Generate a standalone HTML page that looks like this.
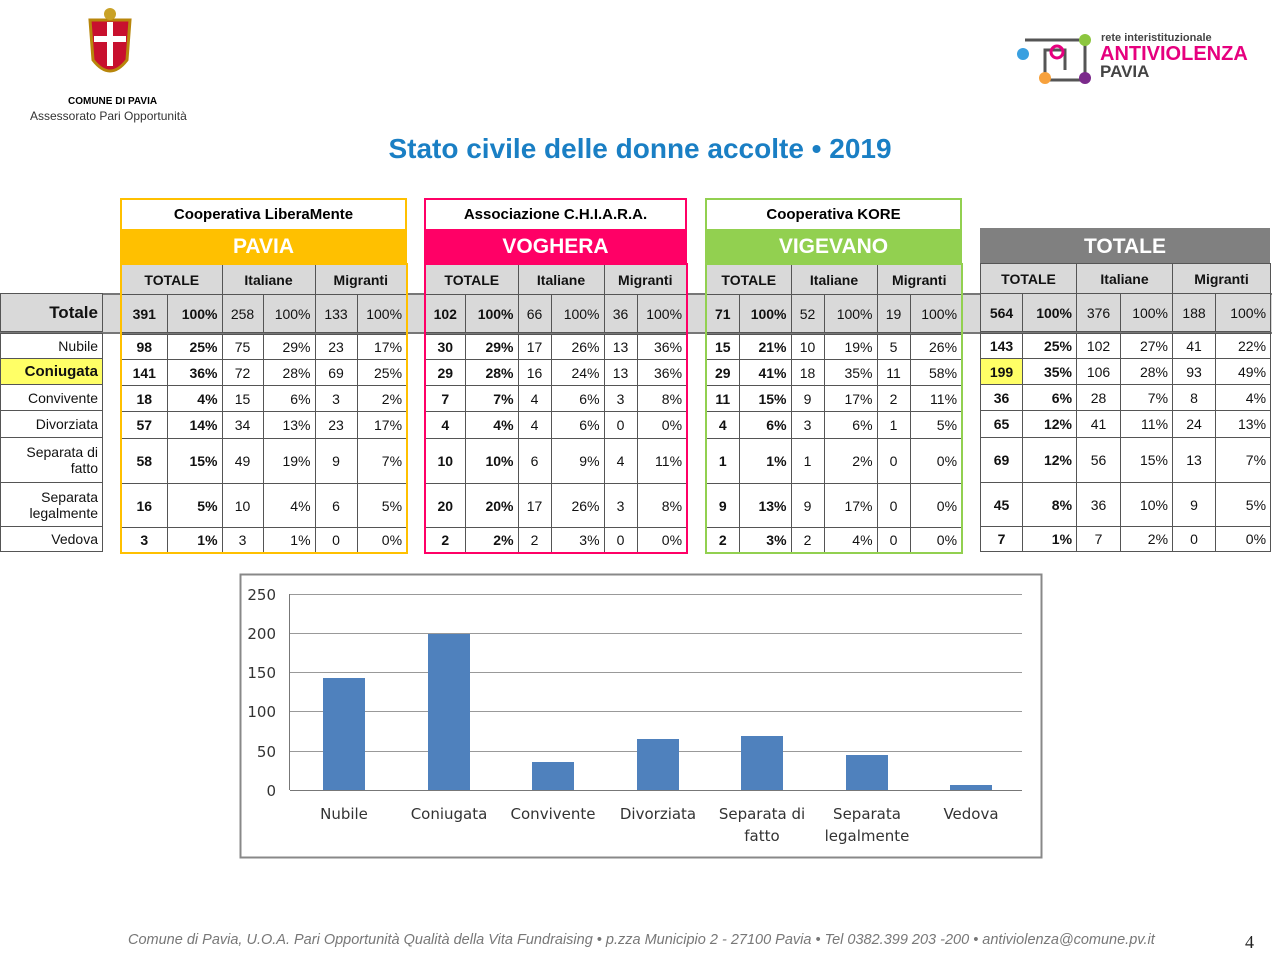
<!DOCTYPE html><html><head><meta charset="utf-8"><style>
body{margin:0;width:1280px;height:953px;background:#fff;position:relative;font-family:"Liberation Sans",sans-serif;overflow:hidden}
.a{position:absolute}
table{position:absolute;border-collapse:collapse;font-size:14px;table-layout:fixed}
td{border:1px solid #555;text-align:center;padding:0;color:#111;overflow:hidden}
td.r{text-align:right;padding-right:4px}
.h td{height:37px;background:#d9d9d9;font-size:14px}
.sub td{background:#d9d9d9;height:29px;font-weight:bold}
b{font-weight:bold}
</style></head><body>
<div class="a" style="left:82px;top:6px;width:56px;height:80px">
<svg width="56" height="80"><path d="M8 14h40l-3 40q-17 22-34 0z" fill="#c8102e" stroke="#b8860b" stroke-width="3"/><rect x="25" y="16" width="6" height="44" fill="#fff"/><rect x="12" y="30" width="32" height="6" fill="#fff"/><circle cx="28" cy="8" r="6" fill="#c9a227"/></svg></div>
<div class="a" style="left:68px;top:96px;font-size:10px;font-weight:bold">COMUNE DI PAVIA</div>
<div class="a" style="left:30px;top:109px;font-size:12px;color:#333">Assessorato Pari Opportunità</div>
<svg class="a" style="left:1015px;top:30px" width="90" height="62"><path d="M10 10h60v40H30V20h20v20" fill="none" stroke="#555" stroke-width="3"/><circle cx="8" cy="24" r="6" fill="#3aa0e0"/><circle cx="70" cy="10" r="6" fill="#8cc63f"/><circle cx="30" cy="48" r="6" fill="#f7a13c"/><circle cx="70" cy="48" r="6" fill="#7b2a8b"/><circle cx="42" cy="22" r="6" fill="none" stroke="#e6007e" stroke-width="3"/></svg>
<div class="a" style="left:1101px;top:32px;font-size:11px;font-weight:bold;color:#444">rete interistituzionale</div>
<div class="a" style="left:1100px;top:43px;font-size:20px;font-weight:bold;color:#e6007e">ANTIVIOLENZA</div>
<div class="a" style="left:1100px;top:62px;font-size:17px;font-weight:bold;color:#444">PAVIA</div>
<div class="a" style="left:0;width:1280px;top:133px;text-align:center;font-size:28px;font-weight:bold;color:#1a7fc4">Stato civile delle donne accolte • 2019</div>

<div class="a" style="left:120px;top:198px;width:283px;height:91px;border:2px solid #ffc000"></div>
<div class="a" style="left:122px;top:200px;width:283px;height:29px;text-align:center;line-height:29px;font-size:15px;font-weight:bold">Cooperativa LiberaMente</div>
<div class="a" style="left:122px;top:229px;width:283px;height:34px;background:#ffc000;color:#fff;text-align:center;line-height:36px;font-size:21px;font-weight:bold">PAVIA</div>
<div class="a" style="left:424px;top:198px;width:259px;height:91px;border:2px solid #ff0066"></div>
<div class="a" style="left:426px;top:200px;width:259px;height:29px;text-align:center;line-height:29px;font-size:15px;font-weight:bold">Associazione C.H.I.A.R.A.</div>
<div class="a" style="left:426px;top:229px;width:259px;height:34px;background:#ff0066;color:#fff;text-align:center;line-height:36px;font-size:21px;font-weight:bold">VOGHERA</div>
<div class="a" style="left:705px;top:198px;width:253px;height:91px;border:2px solid #92d050"></div>
<div class="a" style="left:707px;top:200px;width:253px;height:29px;text-align:center;line-height:29px;font-size:15px;font-weight:bold">Cooperativa KORE</div>
<div class="a" style="left:707px;top:229px;width:253px;height:34px;background:#92d050;color:#fff;text-align:center;line-height:36px;font-size:21px;font-weight:bold">VIGEVANO</div>
<div class="a" style="left:980px;top:228px;width:290px;height:35px;background:#808080;color:#fff;text-align:center;line-height:37px;font-size:21px;font-weight:bold">TOTALE</div>

<div class="a" style="left:0;top:293px;width:1272px;height:37px;background:#d9d9d9;border-top:2px solid #777;border-bottom:2px solid #777"></div>

<table style="left:0;top:293px;width:103px">
<tr class="h"><td class="r" style="font-size:17px;font-weight:bold;height:37px">Totale</td></tr>
<tr><td style="border:none;height:1px"></td></tr>
<tr><td class="r" style="height:24px">Nubile</td></tr>
<tr><td class="r" style="height:25px;background:#ffff66;font-weight:bold;font-size:15px">Coniugata</td></tr>
<tr><td class="r" style="height:25px">Convivente</td></tr>
<tr><td class="r" style="height:26px">Divorziata</td></tr>
<tr><td class="r" style="height:44px">Separata di<br>fatto</td></tr>
<tr><td class="r" style="height:43px">Separata<br>legalmente</td></tr>
<tr><td class="r" style="height:24px">Vedova</td></tr>
</table>

<table style="left:120px;top:263px;width:286px;border:2px solid #ffc000">
<col style="width:46px"><col style="width:55px"><col style="width:41px"><col style="width:52px"><col style="width:42px"><col style="width:50px">
<tr class="sub"><td colspan="2">TOTALE</td><td colspan="2">Italiane</td><td colspan="2">Migranti</td></tr>
<tr class="h"><td><b>391</b></td><td class="r"><b>100%</b></td><td>258</td><td class="r">100%</td><td>133</td><td class="r">100%</td></tr>
<tr><td colspan="6" style="height:1px;border:none"></td></tr>
<tr style="height:25px"><td><b>98</b></td><td class="r"><b>25%</b></td><td>75</td><td class="r">29%</td><td>23</td><td class="r">17%</td></tr>
<tr style="height:26px"><td><b>141</b></td><td class="r"><b>36%</b></td><td>72</td><td class="r">28%</td><td>69</td><td class="r">25%</td></tr>
<tr style="height:26px"><td><b>18</b></td><td class="r"><b>4%</b></td><td>15</td><td class="r">6%</td><td>3</td><td class="r">2%</td></tr>
<tr style="height:27px"><td><b>57</b></td><td class="r"><b>14%</b></td><td>34</td><td class="r">13%</td><td>23</td><td class="r">17%</td></tr>
<tr style="height:45px"><td><b>58</b></td><td class="r"><b>15%</b></td><td>49</td><td class="r">19%</td><td>9</td><td class="r">7%</td></tr>
<tr style="height:44px"><td><b>16</b></td><td class="r"><b>5%</b></td><td>10</td><td class="r">4%</td><td>6</td><td class="r">5%</td></tr>
<tr style="height:25px"><td><b>3</b></td><td class="r"><b>1%</b></td><td>3</td><td class="r">1%</td><td>0</td><td class="r">0%</td></tr>
</table>

<table style="left:424px;top:263px;width:262px;border:2px solid #ff0066">
<col style="width:40px"><col style="width:53px"><col style="width:33px"><col style="width:53px"><col style="width:33px"><col style="width:50px">
<tr class="sub"><td colspan="2">TOTALE</td><td colspan="2">Italiane</td><td colspan="2">Migranti</td></tr>
<tr class="h"><td><b>102</b></td><td class="r"><b>100%</b></td><td>66</td><td class="r">100%</td><td>36</td><td class="r">100%</td></tr>
<tr><td colspan="6" style="height:1px;border:none"></td></tr>
<tr style="height:25px"><td><b>30</b></td><td class="r"><b>29%</b></td><td>17</td><td class="r">26%</td><td>13</td><td class="r">36%</td></tr>
<tr style="height:26px"><td><b>29</b></td><td class="r"><b>28%</b></td><td>16</td><td class="r">24%</td><td>13</td><td class="r">36%</td></tr>
<tr style="height:26px"><td><b>7</b></td><td class="r"><b>7%</b></td><td>4</td><td class="r">6%</td><td>3</td><td class="r">8%</td></tr>
<tr style="height:27px"><td><b>4</b></td><td class="r"><b>4%</b></td><td>4</td><td class="r">6%</td><td>0</td><td class="r">0%</td></tr>
<tr style="height:45px"><td><b>10</b></td><td class="r"><b>10%</b></td><td>6</td><td class="r">9%</td><td>4</td><td class="r">11%</td></tr>
<tr style="height:44px"><td><b>20</b></td><td class="r"><b>20%</b></td><td>17</td><td class="r">26%</td><td>3</td><td class="r">8%</td></tr>
<tr style="height:25px"><td><b>2</b></td><td class="r"><b>2%</b></td><td>2</td><td class="r">3%</td><td>0</td><td class="r">0%</td></tr>
</table>

<table style="left:705px;top:263px;width:256px;border:2px solid #92d050">
<col style="width:33px"><col style="width:52px"><col style="width:33px"><col style="width:53px"><col style="width:33px"><col style="width:52px">
<tr class="sub"><td colspan="2">TOTALE</td><td colspan="2">Italiane</td><td colspan="2">Migranti</td></tr>
<tr class="h"><td><b>71</b></td><td class="r"><b>100%</b></td><td>52</td><td class="r">100%</td><td>19</td><td class="r">100%</td></tr>
<tr><td colspan="6" style="height:1px;border:none"></td></tr>
<tr style="height:25px"><td><b>15</b></td><td class="r"><b>21%</b></td><td>10</td><td class="r">19%</td><td>5</td><td class="r">26%</td></tr>
<tr style="height:26px"><td><b>29</b></td><td class="r"><b>41%</b></td><td>18</td><td class="r">35%</td><td>11</td><td class="r">58%</td></tr>
<tr style="height:26px"><td><b>11</b></td><td class="r"><b>15%</b></td><td>9</td><td class="r">17%</td><td>2</td><td class="r">11%</td></tr>
<tr style="height:27px"><td><b>4</b></td><td class="r"><b>6%</b></td><td>3</td><td class="r">6%</td><td>1</td><td class="r">5%</td></tr>
<tr style="height:45px"><td><b>1</b></td><td class="r"><b>1%</b></td><td>1</td><td class="r">2%</td><td>0</td><td class="r">0%</td></tr>
<tr style="height:44px"><td><b>9</b></td><td class="r"><b>13%</b></td><td>9</td><td class="r">17%</td><td>0</td><td class="r">0%</td></tr>
<tr style="height:25px"><td><b>2</b></td><td class="r"><b>3%</b></td><td>2</td><td class="r">4%</td><td>0</td><td class="r">0%</td></tr>
</table>

<table style="left:980px;top:263px;width:290px;border:1px solid #555">
<col style="width:42px"><col style="width:54px"><col style="width:44px"><col style="width:52px"><col style="width:43px"><col style="width:55px">
<tr class="sub"><td colspan="2">TOTALE</td><td colspan="2">Italiane</td><td colspan="2">Migranti</td></tr>
<tr class="h"><td><b>564</b></td><td class="r"><b>100%</b></td><td>376</td><td class="r">100%</td><td>188</td><td class="r">100%</td></tr>
<tr><td colspan="6" style="height:1px;border:none"></td></tr>
<tr style="height:25px"><td><b>143</b></td><td class="r"><b>25%</b></td><td>102</td><td class="r">27%</td><td>41</td><td class="r">22%</td></tr>
<tr style="height:26px"><td style="background:#ffff66"><b>199</b></td><td class="r"><b>35%</b></td><td>106</td><td class="r">28%</td><td>93</td><td class="r">49%</td></tr>
<tr style="height:26px"><td><b>36</b></td><td class="r"><b>6%</b></td><td>28</td><td class="r">7%</td><td>8</td><td class="r">4%</td></tr>
<tr style="height:27px"><td><b>65</b></td><td class="r"><b>12%</b></td><td>41</td><td class="r">11%</td><td>24</td><td class="r">13%</td></tr>
<tr style="height:45px"><td><b>69</b></td><td class="r"><b>12%</b></td><td>56</td><td class="r">15%</td><td>13</td><td class="r">7%</td></tr>
<tr style="height:44px"><td><b>45</b></td><td class="r"><b>8%</b></td><td>36</td><td class="r">10%</td><td>9</td><td class="r">5%</td></tr>
<tr style="height:25px"><td><b>7</b></td><td class="r"><b>1%</b></td><td>7</td><td class="r">2%</td><td>0</td><td class="r">0%</td></tr>
</table>

<svg class="a" style="left:0;top:0" width="1280" height="953" font-family="DejaVu Sans, sans-serif" font-size="15" fill="#333">
<rect x="240.5" y="574.5" width="801" height="283" fill="#fff" stroke="#888" stroke-width="2"/>
<g stroke="#999" stroke-width="1">
<line x1="290" y1="594.5" x2="1022" y2="594.5"/><line x1="290" y1="633.5" x2="1022" y2="633.5"/><line x1="290" y1="672.5" x2="1022" y2="672.5"/><line x1="290" y1="711.5" x2="1022" y2="711.5"/><line x1="290" y1="751.5" x2="1022" y2="751.5"/>
<line x1="290" y1="790.5" x2="1022" y2="790.5" stroke="#777"/><line x1="289.5" y1="594" x2="289.5" y2="790" stroke="#777"/>
</g>
<g text-anchor="end"><text x="276" y="600">250</text><text x="276" y="639">200</text><text x="276" y="678">150</text><text x="276" y="717">100</text><text x="276" y="757">50</text><text x="276" y="796">0</text></g>
<g fill="#4f81bd"><rect x="323" y="678" width="42" height="112"/><rect x="428" y="634" width="42" height="156"/><rect x="532" y="762" width="42" height="28"/><rect x="637" y="739" width="42" height="51"/><rect x="741" y="736" width="42" height="54"/><rect x="846" y="755" width="42" height="35"/><rect x="950" y="785" width="42" height="5"/></g>
<g text-anchor="middle"><text x="344" y="819">Nubile</text><text x="449" y="819">Coniugata</text><text x="553" y="819">Convivente</text><text x="658" y="819">Divorziata</text><text x="762" y="819">Separata di</text><text x="762" y="841">fatto</text><text x="867" y="819">Separata</text><text x="867" y="841">legalmente</text><text x="971" y="819">Vedova</text></g>
<text x="128" y="944" font-family="Liberation Sans, sans-serif" font-style="italic" font-size="14.5" fill="#777">Comune di Pavia, U.O.A. Pari Opportunità Qualità della Vita Fundraising • p.zza Municipio 2 - 27100 Pavia • Tel 0382.399 203 -200 • antiviolenza@comune.pv.it</text>
<text x="1245" y="948" font-family="Liberation Serif, serif" font-size="18" fill="#222">4</text>
</svg>
</body></html>
